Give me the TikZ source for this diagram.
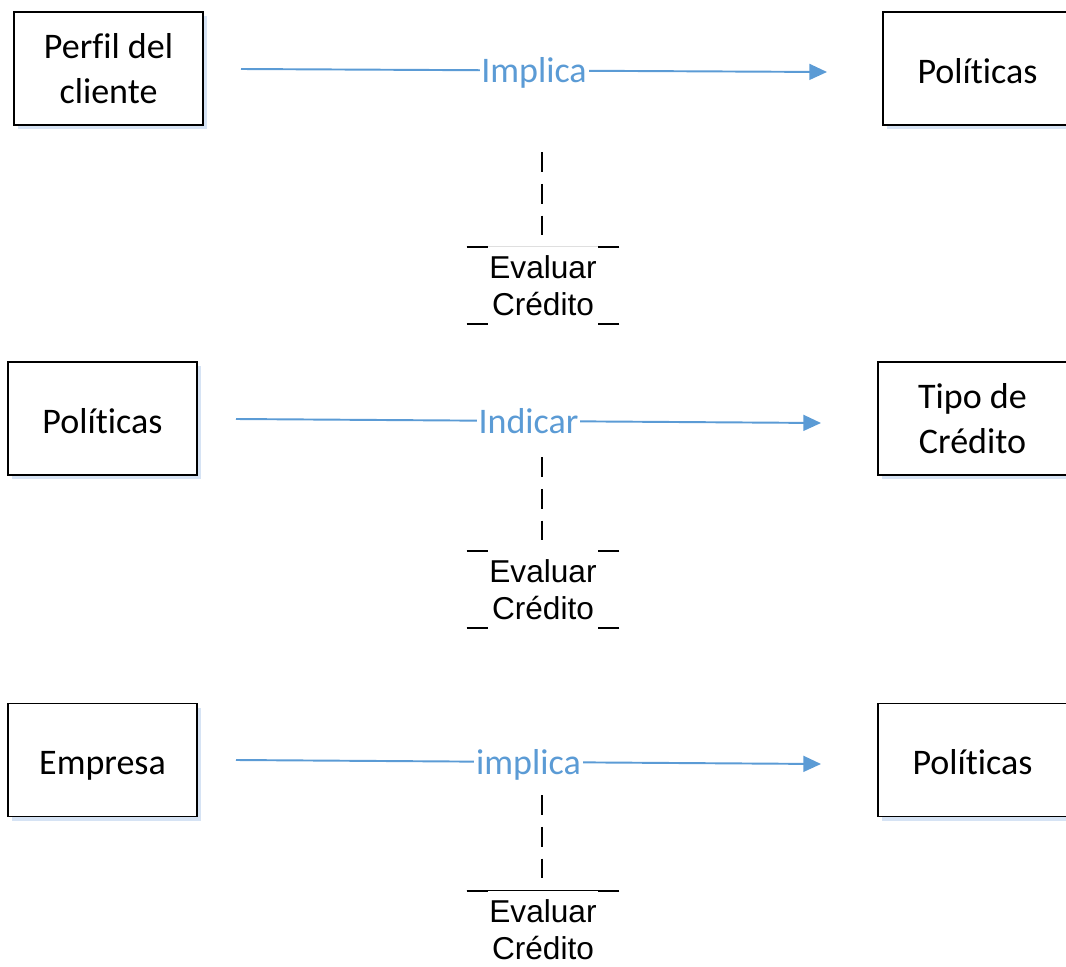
\documentclass[tikz,border=0pt]{standalone}
\usepackage{fontspec}
\setmainfont[Ligatures=NoCommon]{Carlito}
\newfontfamily\evalfont{Liberation Sans}
\usetikzlibrary{arrows.meta,shadows}
\definecolor{flecha}{RGB}{91,155,213}
\definecolor{sombra}{RGB}{214,227,244}
\tikzset{caja/.style={draw=black, line width=1.1pt, fill=white, minimum width=3.78cm, minimum height=2.26cm,
             inner sep=0pt, align=center, font=\fontsize{20.5}{25.5}\selectfont,
             general shadow={fill=sombra, shadow xshift=2.4pt, shadow yshift=-2.4pt}},
         linea/.style={text height=18pt, text depth=1.2pt},
         relacion/.style={draw=flecha, line width=1.1pt, -{Triangle[length=10pt,width=9pt]}},
         etiqueta/.style={fill=white, inner sep=1pt, text=flecha, text height=18pt, text depth=4pt,
             font=\fontsize{20.5}{24}\selectfont},
         evaluar/.style={minimum width=3.04cm, minimum height=1.54cm, inner sep=0pt, align=center,
             font=\evalfont\fontsize{18}{21}\selectfont},
         guion/.style={line width=1.7pt, dash pattern=on 11.3pt off 6.8pt}
}
% esquinas de la caja "Evaluar Credito"
\newcommand{\evalmarks}[1]{
    \draw[line width=1.1pt] (#1.north west) -- ++(21,0);
    \draw[line width=1.1pt] (#1.north east) -- ++(-21,0);
    \draw[line width=1.1pt] (#1.south west) -- ++(21,0);
    \draw[line width=1.1pt] (#1.south east) -- ++(-21,0);
}
\begin{document}
\begin{tikzpicture}[x=0.02cm,y=-0.02cm]
\useasboundingbox (0,0) rectangle (1066,967);

% fila 1
\node[caja] (perfil) at (108.5,68.5) {Perfil del\\cliente};
\node[caja,linea] (pol1) at (977.5,68.5) {Políticas};
\coordinate (a1) at (241,69);
\coordinate (b1) at (827,72);
\draw[relacion] (a1) -- node[etiqueta] (imp1) {Implica} (b1);
\node[evaluar] (ev1) at (543,285.5) {Evaluar\\Crédito};
\coordinate (d1) at (542,152);
\coordinate (e1) at (542,237);
\draw[guion] (d1) -- (e1);
\draw[gray!25, line width=0.4pt] (ev1.north west) -- (ev1.north east);
\evalmarks{ev1}

% fila 2
\node[caja,linea] (pol2) at (102.5,418.5) {Políticas};
\node[caja] (tipo) at (972.5,418.5) {Tipo de\\Crédito};
\coordinate (a2) at (236,419);
\coordinate (b2) at (821,423);
\draw[relacion] (a2) -- node[etiqueta] (ind) {Indicar} (b2);
\node[evaluar] (ev2) at (543,589.5) {Evaluar\\Crédito};
\coordinate (d2) at (542,457);
\coordinate (e2) at (542,540);
\draw[guion] (d2) -- (e2);
\evalmarks{ev2}

% fila 3
\node[caja,linea] (empresa) at (102.5,760) {Empresa};
\node[caja,linea] (pol3) at (972.5,760) {Políticas};
\coordinate (a3) at (236,760);
\coordinate (b3) at (821,764);
\draw[relacion] (a3) -- node[etiqueta] (imp3) {implica} (b3);
\node[evaluar] (ev3) at (543,929.5) {Evaluar\\Crédito};
\coordinate (d3) at (542,795);
\coordinate (e3) at (542,885);
\draw[guion] (d3) -- (e3);
\draw[line width=0.6pt] (ev3.north west) -- (ev3.north east);
\evalmarks{ev3}

\end{tikzpicture}
\end{document}
